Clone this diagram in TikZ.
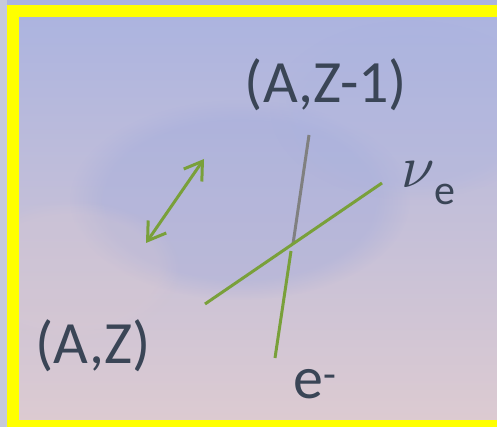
\documentclass[tikz,border=0pt]{standalone}
\usepackage{fontspec}
\setmainfont{Carlito}
\usepackage{tikz}
\usetikzlibrary{arrows.meta,fadings}
\definecolor{skyblue}{HTML}{AAB3E0}
\definecolor{cloudblue}{HTML}{9DA8DC}
\definecolor{dustpink}{HTML}{DDCBD1}
\definecolor{mistgrey}{HTML}{C6C9DA}
\definecolor{leafgreen}{HTML}{79A03A}
\definecolor{slateink}{HTML}{3A4556}
\definecolor{frameyellow}{HTML}{FFFF00}

\begin{document}
\begin{tikzpicture}[x=1pt,y=-1pt,
    lbl/.style={text=slateink, inner sep=0pt, font=\fontsize{60}{60}\selectfont},
    track/.style={line width=3pt, leafgreen}]

  % ================= backdrop: blurred sky, then the yellow frame =================
  \clip (0,0) rectangle (497,427);
  \fill[top color=skyblue, middle color=mistgrey, bottom color=dustpink] (0,0) rectangle (497,427);
  \fill[cloudblue, opacity=0.35, path fading=circle with fuzzy edge 20 percent] (240,200) ellipse (170 and 100);
  \fill[skyblue, opacity=0.3, path fading=circle with fuzzy edge 20 percent] (410,110) ellipse (140 and 90);
  \fill[dustpink, opacity=0.25, path fading=circle with fuzzy edge 20 percent] (70,270) ellipse (110 and 70);
  \fill[mistgrey] (0,0) rectangle (7,427);
  \draw[line width=12pt, frameyellow] (13,11) rectangle (510,426);

  % ---- end points of the tracks ----
  \coordinate (nucin)  at (205,304);
  \coordinate (nuout)  at (382,183);
  \coordinate (ntop)   at (309,135);
  \coordinate (vertex) at (293,244);
  \coordinate (ebeg)   at (291,251);
  \coordinate (eout)   at (275,358);
  \coordinate (swapa)  at (146,243);
  \coordinate (swapb)  at (204,159);

  % ---- tracks: gray nucleus line, green lepton lines ----
  \draw[track, draw=gray] (ntop) -- (vertex);
  \draw[track] (ebeg) -- (eout);
  \draw[track] (nucin) -- (nuout);
  \draw[track, {Straight Barb[length=17pt,width=22pt]}-{Straight Barb[length=17pt,width=22pt]}] (swapa) -- (swapb);

  % ---- labels ----
  \node[lbl, anchor=base] (daughter) at (326,103) {(A,Z-1)};
  \node[lbl, anchor=base] (parent) at (93,363) {(A,Z)};
  \node[lbl, anchor=base west] (neutrino) at (401,188)
    {\scalebox{6}{\normalsize$\nu$}\raisebox{-17pt}{\fontsize{42}{42}\selectfont e}};
  \node[lbl, anchor=base west] (electron) at (293,398) {e\textsuperscript{-}};

  \useasboundingbox (0,0) rectangle (497,427);
\end{tikzpicture}
\end{document}
